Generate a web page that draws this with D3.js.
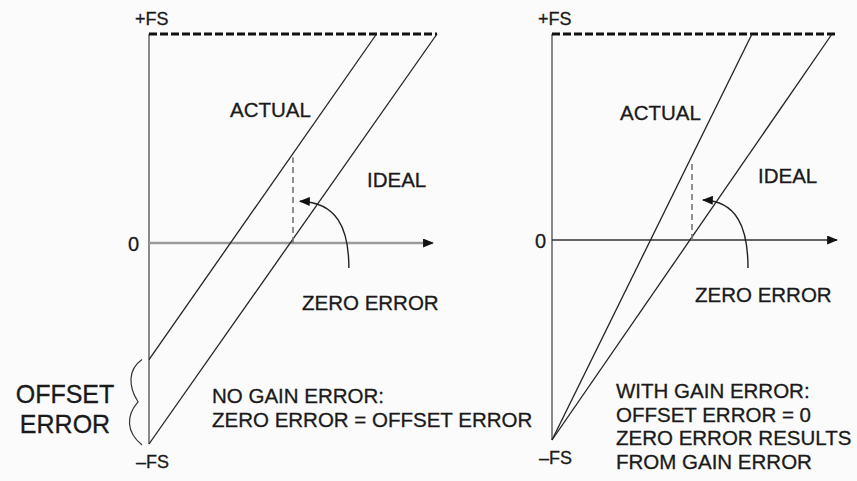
<!DOCTYPE html>
<html>
<head>
<meta charset="utf-8">
<script src="https://cdn.jsdelivr.net/npm/d3@7"></script>
<style>
  html, body { margin: 0; padding: 0; background: #fbfbfb; }
  svg { display: block; }
  text { font-family: "Liberation Sans", Arial, Helvetica, sans-serif; fill: #1a1a1a; stroke: #1a1a1a; stroke-width: 0.3px; }
</style>
</head>
<body>
<svg id="chart" width="857" height="481"></svg>
<script>
// ---------- data ----------
const panels = ["NO GAIN ERROR", "WITH GAIN ERROR"];
const yTickLabels = ["+FS", "0", "\u2013FS"];
const yTickValues = [1, 0, -1];
const lineLabels = ["ACTUAL", "IDEAL"];
// transfer lines: output = start + slope * input (input 0..1, output -FS..+FS = -1..1)
const idealStart = [-1, -1];
const idealSlope = [2, 2];
const actualStart = [-0.58, -1];
const actualSlope = [2, 2.8];
// zero-error marker (input where ideal crosses 0, height of actual there)
const zeroErrX = [0.5, 0.5];
const zeroErrTop = [0.41, 0.37];
const offsetLabel = ["OFFSET", "ERROR"];
const notes = [
  ["NO GAIN ERROR:", "ZERO ERROR = OFFSET ERROR"],
  ["WITH GAIN ERROR:", "OFFSET ERROR = 0", "ZERO ERROR RESULTS", "FROM GAIN ERROR"]
];
const zeroErrorLabel = "ZERO ERROR";

// ---------- layout ----------
const layout = [
  { xr: [149, 437], yd: [-1, 0, 1], yr: [444, 243, 34], fsEnd: 1.0, axEnd: 0.986,
    zeroAxisColor: "#9a9a9a", zeroAxisW: 2.5,
    labelPos: { ACTUAL: [230, 117], IDEAL: [367, 187] },
    zeroLbl: [302, 310], zeroTickX: 139, zeroTickY: 251,
    arcBottom: [0.694, -0.124], arcTip: [0.524, 0.20],
    notePos: [212, 403], noteDy: 24 },
  { xr: [552, 832], yd: [-1, 0, 1], yr: [440, 240, 34], fsEnd: 1.021, axEnd: 1.018,
    zeroAxisColor: "#333", zeroAxisW: 1.6,
    labelPos: { ACTUAL: [620, 120], IDEAL: [758, 183] },
    zeroLbl: [695, 302], zeroTickX: 546, zeroTickY: 248,
    arcBottom: [0.70, -0.14], arcTip: [0.539, 0.194],
    notePos: [616, 398], noteDy: 23.7 }
];

const svg = d3.select("#chart");
const defs = svg.append("defs");
defs.append("marker").attr("id", "ah").attr("viewBox", "0 0 12 10")
  .attr("refX", 11).attr("refY", 5).attr("markerWidth", 12).attr("markerHeight", 9)
  .attr("markerUnits", "userSpaceOnUse").attr("orient", "auto")
  .append("path").attr("d", "M0,0 L12,5 L0,10 Z").attr("fill", "#111");
defs.append("marker").attr("id", "ah2").attr("viewBox", "0 0 12 10")
  .attr("refX", 11).attr("refY", 5).attr("markerWidth", 12).attr("markerHeight", 9)
  .attr("markerUnits", "userSpaceOnUse").attr("orient", "auto")
  .append("path").attr("d", "M0,0 L12,5 L0,10 Z").attr("fill", "#111");

panels.forEach((p, i) => {
  const L = layout[i];
  const x = d3.scaleLinear().domain([0, 1]).range(L.xr);
  const y = d3.scaleLinear().domain(L.yd).range(L.yr);
  const g = svg.append("g").attr("class", "panel").attr("data-name", p);

  // y axis (vertical line from -FS to +FS)
  g.append("line").attr("x1", x(0)).attr("x2", x(0)).attr("y1", y(-1)).attr("y2", y(1))
    .attr("stroke", "#8a8a8a").attr("stroke-width", 2);
  // +FS dashed line
  g.append("line").attr("x1", x(0)).attr("x2", x(L.fsEnd)).attr("y1", y(1)).attr("y2", y(1))
    .attr("stroke", "#111").attr("stroke-width", 3).attr("stroke-dasharray", "8,3");
  // zero axis with arrow
  g.append("line").attr("x1", x(0)).attr("x2", x(L.axEnd)).attr("y1", y(0)).attr("y2", y(0))
    .attr("stroke", L.zeroAxisColor).attr("stroke-width", L.zeroAxisW)
    .attr("marker-end", "url(#ah)");

  // transfer lines
  const line = d3.line().x(d => x(d[0])).y(d => y(d[1]));
  [[actualStart[i], actualSlope[i]], [idealStart[i], idealSlope[i]]].forEach(([s, k]) => {
    const xEnd = (1 - s) / k;
    g.append("path").attr("d", line([[0, s], [xEnd, s + k * xEnd]]))
      .attr("fill", "none").attr("stroke", "#222").attr("stroke-width", 1.3);
  });

  // zero-error dashed vertical
  g.append("line").attr("x1", x(zeroErrX[i])).attr("x2", x(zeroErrX[i]))
    .attr("y1", y(0)).attr("y2", y(zeroErrTop[i]))
    .attr("stroke", "#777").attr("stroke-width", 1.6).attr("stroke-dasharray", "6,4");

  // curved arrow
  const b = [x(L.arcBottom[0]), y(L.arcBottom[1])];
  const t = [x(L.arcTip[0]), y(L.arcTip[1])];
  const pth = d3.path();
  pth.moveTo(b[0], b[1]);
  pth.bezierCurveTo(b[0], b[1] + 0.6 * (t[1] - b[1]), t[0] + 0.75 * (b[0] - t[0]), t[1] + 1, t[0], t[1]);
  g.append("path").attr("d", pth.toString()).attr("fill", "none")
    .attr("stroke", "#222").attr("stroke-width", 1.4).attr("marker-end", "url(#ah2)");

  // tick labels
  g.append("text").attr("x", x(0) - 14).attr("y", y(1) - 9).attr("font-size", 18)
    .text(yTickLabels[0]);
  g.append("text").attr("x", L.zeroTickX).attr("y", L.zeroTickY).attr("font-size", 20)
    .attr("text-anchor", "end").text(yTickLabels[1]);
  g.append("text").attr("x", x(0) - 13).attr("y", y(-1) + 24).attr("font-size", 18)
    .text(yTickLabels[2]);

  // line labels
  lineLabels.forEach(l => {
    g.append("text").attr("x", L.labelPos[l][0]).attr("y", L.labelPos[l][1])
      .attr("font-size", 20.5).text(l);
  });
  g.append("text").attr("x", L.zeroLbl[0]).attr("y", L.zeroLbl[1])
    .attr("font-size", 20.5).text(zeroErrorLabel);

  // notes
  notes[i].forEach((n, j) => {
    g.append("text").attr("x", L.notePos[0]).attr("y", L.notePos[1] + j * L.noteDy)
      .attr("font-size", 20.5).text(n);
  });

  // offset error brace (left panel only)
  if (i === 0) {
    const top = y(actualStart[0]), bot = y(-1), mid = (top + bot) / 2;
    const bx = x(0) - 7;
    const br = d3.path();
    br.moveTo(bx, top);
    br.bezierCurveTo(bx - 14, top + 10, bx - 14, mid - 16, bx - 4, mid);
    br.bezierCurveTo(bx - 16, mid + 14, bx - 16, bot - 12, bx, bot + 1);
    g.append("path").attr("d", br.toString()).attr("fill", "none")
      .attr("stroke", "#333").attr("stroke-width", 1.2);
    offsetLabel.forEach((s, j) => {
      g.append("text").attr("x", 65).attr("y", 403 + j * 30).attr("font-size", 25)
        .attr("text-anchor", "middle").text(s);
    });
  }
});
</script>
</body>
</html>
